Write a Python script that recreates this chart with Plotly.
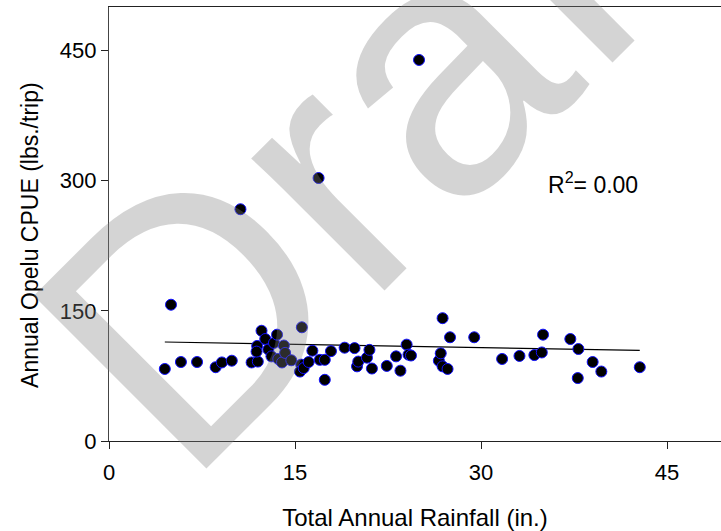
import numpy as np
import plotly.graph_objects as go

# Total annual rainfall (in.) and annual opelu CPUE (lbs./trip)
rainfall = [4.5, 5.0, 5.8, 7.1, 8.6, 9.1, 9.9, 10.6, 11.5, 12.0,
            12.3, 11.95, 11.9, 12.6, 12.85, 13.1, 13.3, 13.55, 13.65, 13.95,
            14.1, 14.2, 14.7, 15.55, 15.5, 15.4, 15.7, 16.1, 16.4, 16.9,
            17.0, 17.4, 17.4, 17.9, 19.0, 19.8, 20.0, 20.1, 20.8, 21.0,
            21.2, 22.4, 23.15, 23.5, 24.0, 24.15, 24.35, 25.0, 26.6, 26.75,
            26.9, 26.9, 27.3, 27.5, 29.45, 31.7, 33.1, 34.3, 34.9, 35.0,
            37.2, 37.85, 37.8, 39.0, 39.7, 42.8]
cpue = [83, 157, 91, 91, 85, 90.5, 92.5, 267, 90.5, 91.5,
        127, 109.5, 103, 117.5, 105.5, 97.5, 113, 122.5, 94.5, 90.5,
        110, 101.5, 93, 131, 88, 80, 84, 91, 104, 303,
        93.5, 93.5, 70.5, 103.5, 107.5, 107, 86, 91.5, 96, 105,
        83.5, 86.5, 97.5, 81, 111, 99.5, 98.5, 439, 92.5, 101,
        141.5, 86, 83, 119.5, 119.5, 94.5, 98, 99, 102, 122.5,
        117.5, 106, 72.5, 91, 80, 85]

x_ticks = [0, 15, 30, 45]
y_ticks = [0, 150, 300, 450]

# least-squares trend line over the observed rainfall range
x = np.array(rainfall)
y = np.array(cpue)
slope, intercept = np.polyfit(x, y, 1)
order = np.argsort(x)
trend_x = x[order]
trend_y = slope * trend_x + intercept

font_family = "Liberation Sans, Arial, sans-serif"

fig = go.Figure()
fig.add_trace(go.Scatter(
    x=trend_x, y=trend_y, mode="lines",
    line=dict(color="black", width=1.2),
    hoverinfo="skip", showlegend=False,
))
fig.add_trace(go.Scatter(
    x=rainfall, y=cpue, mode="markers",
    marker=dict(size=11, color="black", line=dict(color="#1010ff", width=1)),
    showlegend=False,
))

fig.add_annotation(
    x=35.2, y=297, xref="x", yref="y", xanchor="left", yanchor="middle",
    text="R<sup>2</sup>= 0.00", showarrow=False,
    font=dict(family=font_family, size=23, color="black"),
)

# y-axis title, set slightly below the plot's vertical centre
fig.add_annotation(
    x=-0.129, y=0.475, xref="paper", yref="paper",
    xanchor="center", yanchor="middle", textangle=-90,
    text="Annual Opelu CPUE (lbs./trip)", showarrow=False,
    font=dict(family=font_family, size=23, color="black"),
)

# "Draft" watermark laid over the plot
fig.add_annotation(
    x=0.428, y=0.717, xref="paper", yref="paper",
    xanchor="center", yanchor="middle",
    text="Draft", showarrow=False, textangle=-45,
    font=dict(family=font_family, size=355, color="rgba(128,128,128,0.34)"),
)

fig.update_layout(
    width=721, height=531,
    margin=dict(l=109, r=0, t=7, b=90),
    paper_bgcolor="white", plot_bgcolor="white",
    font=dict(family=font_family, size=22, color="black"),
)
fig.update_xaxes(
    range=[0, 49.35], tickvals=x_ticks, ticks="outside", ticklen=7,
    tickcolor="#222", showline=True, linecolor="#222", linewidth=1.3,
    mirror=True, showgrid=False, zeroline=False,
    title=dict(text="Total Annual Rainfall (in.)", font=dict(size=24), standoff=26),
    tickfont=dict(size=22), ticklabelstandoff=4,
)
fig.update_yaxes(
    range=[0, 500], tickvals=y_ticks, ticks="outside", ticklen=7,
    tickcolor="#222", showline=True, linecolor="#444", linewidth=1.3,
    showgrid=False, zeroline=False,
    tickfont=dict(size=22),
)

fig.write_html("out.html")
